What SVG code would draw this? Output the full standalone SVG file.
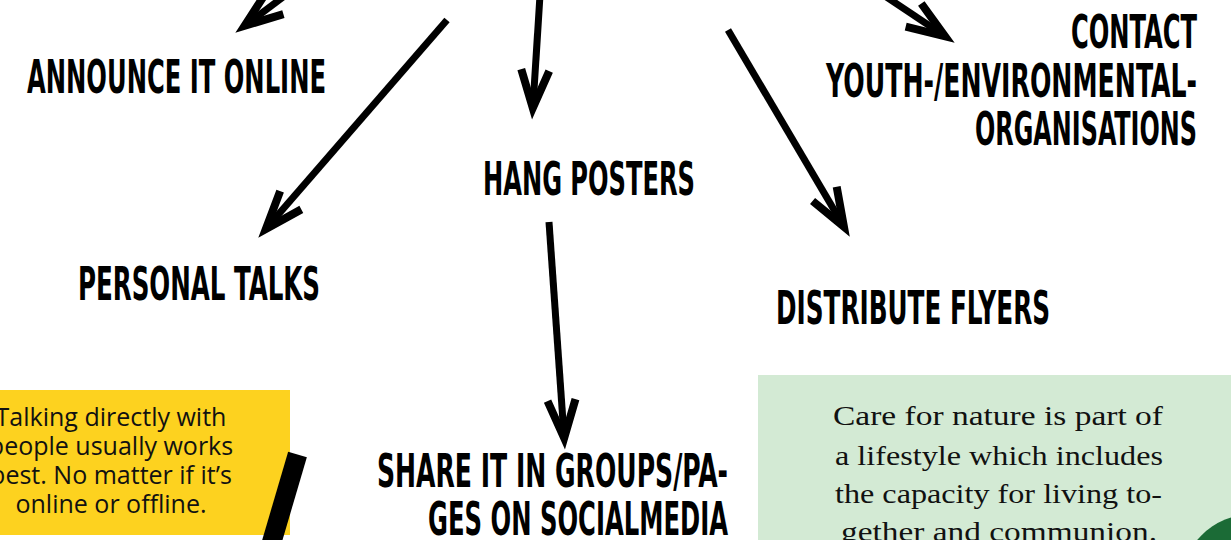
<svg xmlns="http://www.w3.org/2000/svg" xmlns:xlink="http://www.w3.org/1999/xlink" width="1231" height="540" viewBox="0 0 1231 540">
<style>
.lbl{font-family:"Liberation Sans Narrow","DejaVu Sans Condensed","Liberation Sans",sans-serif;font-weight:bold;font-size:46px;fill:#000;}
.note{font-family:"Open Sans","Noto Sans",sans-serif;font-size:25px;fill:#111;text-anchor:middle;}
.quote{font-family:"Liberation Serif","DejaVu Serif",serif;font-size:28px;fill:#111;}
.shaft{stroke:#000;stroke-width:7;fill:none;stroke-linecap:butt;}
</style>
<defs>
<path id="head" d="M-50,-14 L-12,0 L-50,14" fill="none" stroke="#000" stroke-width="8" stroke-miterlimit="6"/>
</defs>
<rect width="1231" height="540" fill="#fff"/>

<g id="note-yellow">
<rect x="-2" y="390" width="292" height="145" fill="#FDD21F"/>
<text class="note" x="111" y="426">Talking directly with</text>
<text class="note" x="111" y="455">people usually works</text>
<text class="note" x="111" y="484">best. No matter if it’s</text>
<text class="note" x="111" y="513">online or offline.</text>
<line x1="297.5" y1="454.5" x2="270" y2="548" stroke="#000" stroke-width="19.5"/>
</g>

<g id="note-green">
<rect x="758" y="375" width="480" height="170" fill="#D3EAD4"/>
<text class="quote" x="833" y="425" textLength="330" lengthAdjust="spacingAndGlyphs">Care for nature is part of</text>
<text class="quote" x="835" y="465" textLength="328" lengthAdjust="spacingAndGlyphs">a lifestyle which includes</text>
<text class="quote" x="835" y="503" textLength="327" lengthAdjust="spacingAndGlyphs">the capacity for living to-</text>
<text class="quote" x="841" y="541" textLength="316" lengthAdjust="spacingAndGlyphs">gether and communion.</text>
<circle cx="1253" cy="587" r="73" fill="#1B6B36"/>
</g>

<g id="announce"><text class="lbl" x="27" y="93" textLength="299" lengthAdjust="spacingAndGlyphs">ANNOUNCE IT ONLINE</text></g>
<g id="hang"><text class="lbl" x="483" y="195" textLength="212" lengthAdjust="spacingAndGlyphs">HANG POSTERS</text></g>
<g id="personal"><text class="lbl" x="78" y="300" textLength="242" lengthAdjust="spacingAndGlyphs">PERSONAL TALKS</text></g>
<g id="distribute"><text class="lbl" x="776" y="324" textLength="274" lengthAdjust="spacingAndGlyphs">DISTRIBUTE FLYERS</text></g>
<g id="contact">
<text class="lbl" x="1071" y="48" textLength="126" lengthAdjust="spacingAndGlyphs">CONTACT</text>
<text class="lbl" x="826" y="97" textLength="371" lengthAdjust="spacingAndGlyphs">YOUTH-/ENVIRONMENTAL-</text>
<text class="lbl" x="975" y="145" textLength="222" lengthAdjust="spacingAndGlyphs">ORGANISATIONS</text>
</g>
<g id="share">
<text class="lbl" x="377" y="487" textLength="351" lengthAdjust="spacingAndGlyphs">SHARE IT IN GROUPS/PA-</text>
<text class="lbl" x="428" y="535" textLength="300" lengthAdjust="spacingAndGlyphs">GES ON SOCIALMEDIA</text>
</g>

<g id="connectors">
<line class="shaft" x1="291" y1="-9" x2="246" y2="25"/>
<use xlink:href="#head" transform="translate(235,33) rotate(143.1)"/>
<line class="shaft" x1="447" y1="20" x2="267" y2="227.5"/>
<use xlink:href="#head" transform="translate(258,238) rotate(130.9)"/>
<line class="shaft" x1="540" y1="-5" x2="533" y2="106"/>
<use xlink:href="#head" transform="translate(532,120) rotate(93.7)"/>
<line class="shaft" x1="876" y1="-10" x2="943.5" y2="35.2"/>
<use xlink:href="#head" transform="translate(955,43) rotate(33.9)"/>
<line class="shaft" x1="728" y1="30" x2="843" y2="225"/>
<use xlink:href="#head" transform="translate(850,237) rotate(59.5)"/>
<line class="shaft" x1="549" y1="222" x2="564" y2="436"/>
<use xlink:href="#head" transform="translate(565,450) rotate(86)"/>
</g>
</svg>
